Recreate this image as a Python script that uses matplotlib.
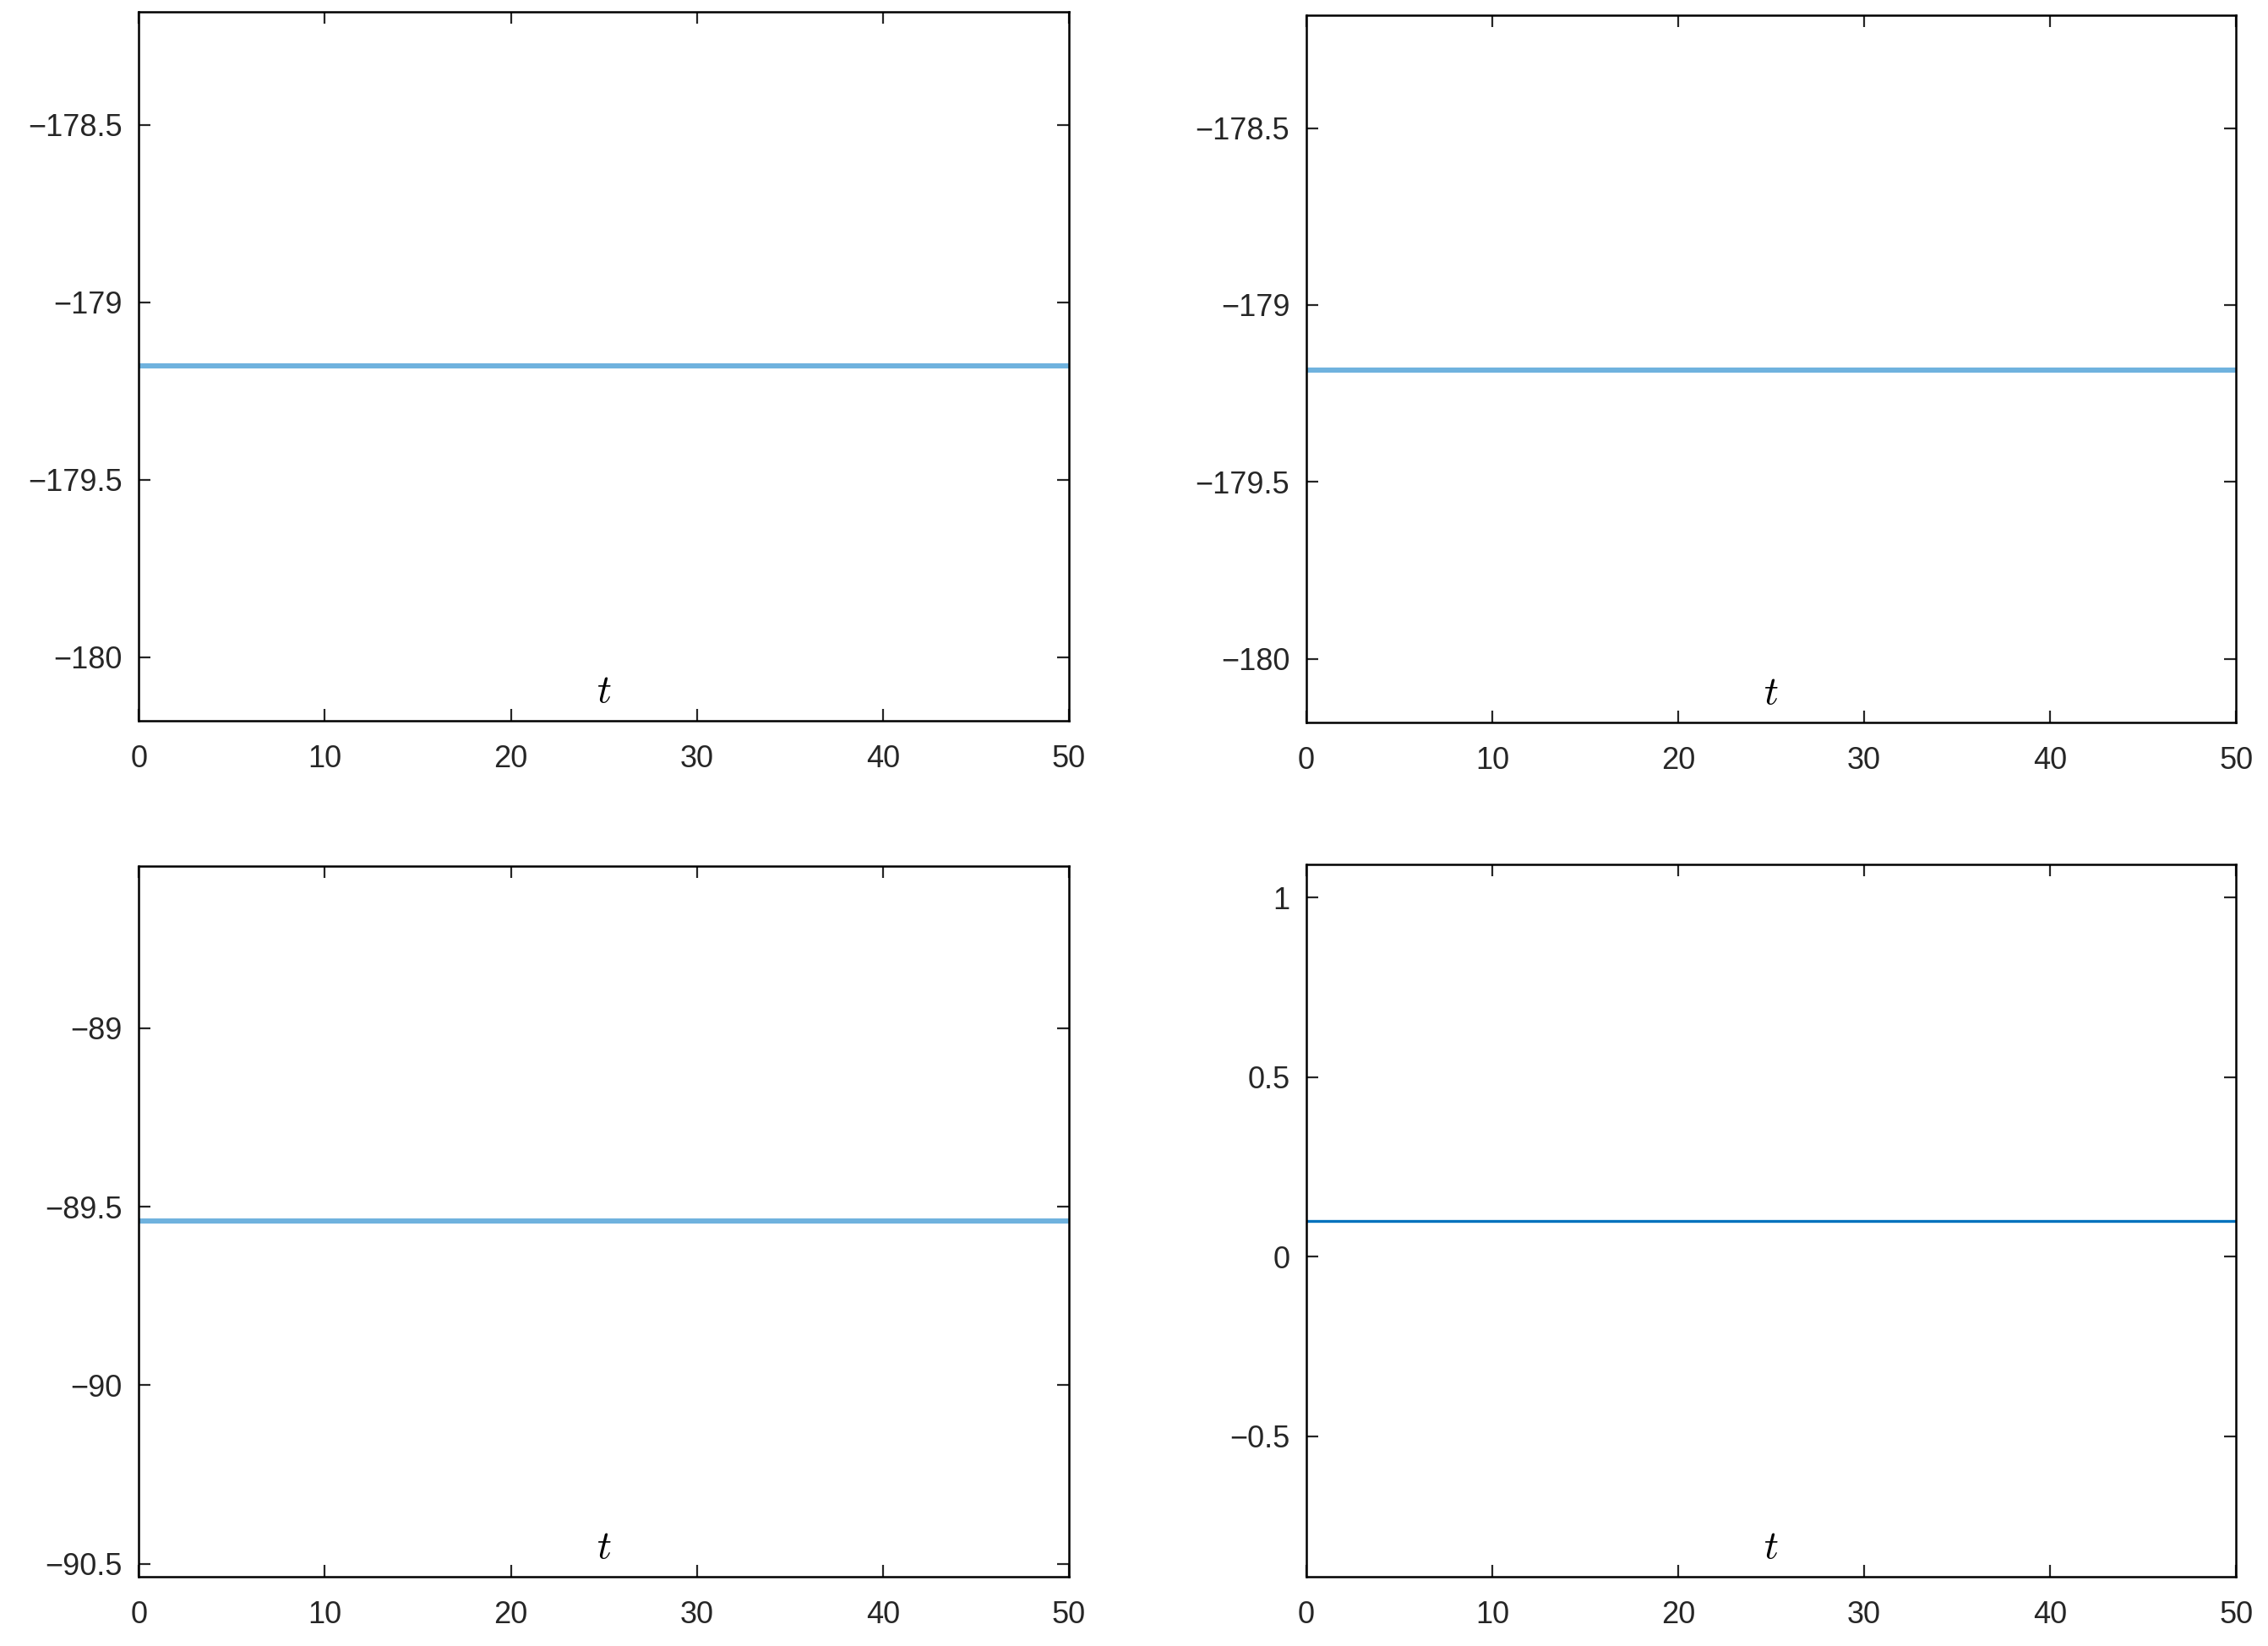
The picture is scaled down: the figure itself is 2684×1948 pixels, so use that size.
import matplotlib
matplotlib.use("Agg")
import matplotlib.pyplot as plt
import numpy as np

plt.rcParams['font.family'] = ['Liberation Sans', 'DejaVu Sans']
plt.rcParams['mathtext.fontset'] = 'cm'

t = [0, 50]
series = [[-179.18, -179.18], [-179.185, -179.185], [-89.54, -89.54], [0.1, 0.1]]
ylims = [(-180.18, -178.18), (-180.18, -178.18), (-90.537, -88.545), (-0.891, 1.093)]
yticks = [[-180, -179.5, -179, -178.5], [-180, -179.5, -179, -178.5],
          [-90.5, -90, -89.5, -89], [-0.5, 0, 0.5, 1]]
colors = ["#6fb2de", "#6fb2de", "#6fb2de", "#0072BD"]
widths = [2.2, 2.2, 2.2, 1.2]
pos = [[0.0612, 0.562, 0.4101, 0.431], [0.5759, 0.561, 0.4101, 0.430],
       [0.0612, 0.042, 0.4101, 0.432], [0.5759, 0.042, 0.4101, 0.433]]

fig = plt.figure(figsize=(13.42, 9.74), dpi=200)
for i in range(4):
    ax = fig.add_axes(pos[i])
    ax.plot(t, series[i], color=colors[i], lw=widths[i])
    ax.set_xlim(0, 50)
    ax.set_ylim(*ylims[i])
    ax.set_xticks([0, 10, 20, 30, 40, 50])
    ax.set_yticks(yticks[i])
    ax.set_yticklabels([("%g" % v).replace("-", "\u2212") for v in yticks[i]])
    ax.tick_params(direction="in", top=True, right=True, labelsize=13,
                   colors="#262626", length=5)
    ax.tick_params(axis="x", pad=10)
    ax.tick_params(axis="y", pad=7)
    for s in ax.spines.values():
        s.set_linewidth(0.9)
    ax.text(0.5, 0.015, "$t$", transform=ax.transAxes, ha="center", va="bottom", fontsize=17)
fig.savefig("out.png")
